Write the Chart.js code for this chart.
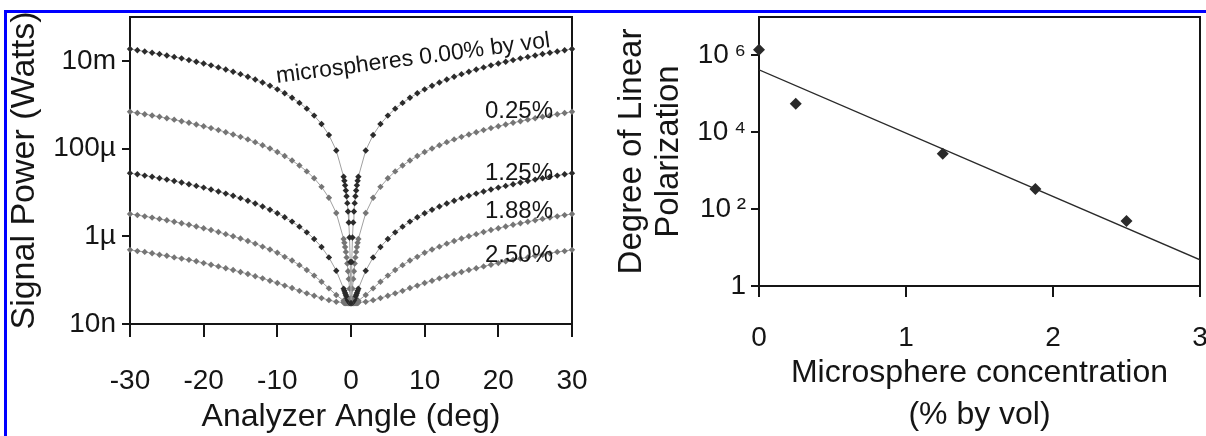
<!DOCTYPE html>
<html>
<head>
<meta charset="utf-8">
<script src="https://cdn.jsdelivr.net/npm/chart.js@4.4.1/dist/chart.umd.min.js"></script>
<style>
  html, body { margin: 0; padding: 0; background: #fff; overflow: hidden; }
  body { width: 1206px; height: 436px; position: relative; }
  #frame { position: absolute; left: 4px; top: 10px; width: 1220px; height: 450px;
           border-top: 3px solid #0000ff; border-left: 3px solid #0000ff; }
  #left { position: absolute; left: 0; top: 0; width: 600px; height: 436px; }
  #right { position: absolute; left: 600px; top: 0; width: 606px; height: 436px; }
</style>
</head>
<body>
<div id="frame"></div>
<canvas id="left" width="600" height="436"></canvas>
<canvas id="right" width="606" height="436"></canvas>
<script>
// analyzer angle (deg), dense sampling near 0
const angles = [-30,-29,-28,-27,-26,-25,-24,-23,-22,-21,-20,-19,-18,-17,-16,-15,-14,-13,-12,-11,
  -10,-9,-8,-7,-6,-5,-4,-3,-2,-1,-0.9,-0.8,-0.7,-0.6,-0.5,-0.4,-0.3,-0.2,-0.1,0,
  0.1,0.2,0.3,0.4,0.5,0.6,0.7,0.8,0.9,1,2,3,4,5,6,7,8,9,10,
  11,12,13,14,15,16,17,18,19,20,21,22,23,24,25,26,27,28,29,30]

// signal power (W) for each microsphere concentration
const power000 = [0.0186,0.0175,0.0164,0.0153,0.0143,0.0133,0.0123,0.0114,0.0104,0.00956,
  0.0087,0.00789,0.0071,0.00636,0.00565,0.00498,0.00435,0.00376,0.00322,0.00271,
  0.00224,0.00182,0.00144,0.0011,8.13e-4,5.65e-4,3.62e-4,2.04e-4,9.06e-5,2.27e-5,
  1.84e-5,1.45e-5,1.11e-5,8.2e-6,5.7e-6,3.66e-6,2.07e-6,9.4e-7,2.6e-7,3.0e-8,
  2.6e-7,9.4e-7,2.07e-6,3.66e-6,5.7e-6,8.2e-6,1.11e-5,1.45e-5,1.84e-5,
  2.27e-5,9.06e-5,2.04e-4,3.62e-4,5.65e-4,8.13e-4,0.0011,0.00144,0.00182,0.00224,
  0.00271,0.00322,0.00376,0.00435,0.00498,0.00565,0.00636,0.0071,0.00789,0.0087,
  0.00956,0.0104,0.0114,0.0123,0.0133,0.0143,0.0153,0.0164,0.0175,0.0186]
const power025 = [6.9e-4,6.49e-4,6.08e-4,5.69e-4,5.3e-4,4.93e-4,4.57e-4,4.21e-4,3.87e-4,3.54e-4,
  3.23e-4,2.93e-4,2.64e-4,2.36e-4,2.1e-4,1.85e-4,1.62e-4,1.4e-4,1.19e-4,1.0e-4,
  8.32e-5,6.75e-5,5.35e-5,4.1e-5,3.02e-5,2.1e-5,1.34e-5,7.56e-6,3.39e-6,8.7e-7,
  7.1e-7,5.7e-7,4.4e-7,3.3e-7,2.4e-7,1.6e-7,1.06e-7,6.4e-8,3.8e-8,3.0e-8,
  3.8e-8,6.4e-8,1.06e-7,1.6e-7,2.4e-7,3.3e-7,4.4e-7,5.7e-7,7.1e-7,
  8.7e-7,3.39e-6,7.56e-6,1.34e-5,2.1e-5,3.02e-5,4.1e-5,5.35e-5,6.75e-5,8.32e-5,
  1.0e-4,1.19e-4,1.4e-4,1.62e-4,1.85e-4,2.1e-4,2.36e-4,2.64e-4,2.93e-4,3.23e-4,
  3.54e-4,3.87e-4,4.21e-4,4.57e-4,4.93e-4,5.3e-4,5.69e-4,6.08e-4,6.49e-4,6.9e-4]
const power125 = [2.75e-5,2.59e-5,2.42e-5,2.27e-5,2.11e-5,1.96e-5,1.82e-5,1.68e-5,1.54e-5,1.41e-5,
  1.29e-5,1.17e-5,1.05e-5,9.4e-6,8.39e-6,7.4e-6,6.47e-6,5.6e-6,4.79e-6,4.04e-6,
  3.35e-6,2.72e-6,2.16e-6,1.66e-6,1.23e-6,8.7e-7,5.7e-7,3.3e-7,1.64e-7,6.4e-8,
  5.7e-8,5.1e-8,4.6e-8,4.2e-8,3.8e-8,3.5e-8,3.3e-8,3.1e-8,3.0e-8,3.0e-8,
  3.0e-8,3.1e-8,3.3e-8,3.5e-8,3.8e-8,4.2e-8,4.6e-8,5.1e-8,5.7e-8,
  6.4e-8,1.64e-7,3.3e-7,5.7e-7,8.7e-7,1.23e-6,1.66e-6,2.16e-6,2.72e-6,3.35e-6,
  4.04e-6,4.79e-6,5.6e-6,6.47e-6,7.4e-6,8.39e-6,9.4e-6,1.05e-5,1.17e-5,1.29e-5,
  1.41e-5,1.54e-5,1.68e-5,1.82e-5,1.96e-5,2.11e-5,2.27e-5,2.42e-5,2.59e-5,2.75e-5]
const power188 = [3.23e-6,3.04e-6,2.85e-6,2.67e-6,2.49e-6,2.32e-6,2.15e-6,1.98e-6,1.83e-6,1.67e-6,
  1.53e-6,1.39e-6,1.25e-6,1.12e-6,1.0e-6,8.9e-7,7.8e-7,6.8e-7,5.8e-7,5.0e-7,
  4.2e-7,3.4e-7,2.8e-7,2.2e-7,1.7e-7,1.27e-7,9.2e-8,6.5e-8,4.6e-8,3.4e-8,
  3.3e-8,3.3e-8,3.2e-8,3.1e-8,3.1e-8,3.1e-8,3.0e-8,3.0e-8,3.0e-8,3.0e-8,
  3.0e-8,3.0e-8,3.0e-8,3.1e-8,3.1e-8,3.1e-8,3.2e-8,3.3e-8,3.3e-8,
  3.4e-8,4.6e-8,6.5e-8,9.2e-8,1.27e-7,1.7e-7,2.2e-7,2.8e-7,3.4e-7,4.2e-7,
  5.0e-7,5.8e-7,6.8e-7,7.8e-7,8.9e-7,1.0e-6,1.12e-6,1.25e-6,1.39e-6,1.53e-6,
  1.67e-6,1.83e-6,1.98e-6,2.15e-6,2.32e-6,2.49e-6,2.67e-6,2.85e-6,3.04e-6,3.23e-6]
const power250 = [4.9e-7,4.6e-7,4.4e-7,4.1e-7,3.8e-7,3.6e-7,3.3e-7,3.1e-7,2.9e-7,2.7e-7,
  2.45e-7,2.25e-7,2.06e-7,1.87e-7,1.7e-7,1.53e-7,1.38e-7,1.23e-7,1.1e-7,9.7e-8,
  8.6e-8,7.5e-8,6.6e-8,5.7e-8,5.0e-8,4.4e-8,3.9e-8,3.5e-8,3.2e-8,3.1e-8,
  3.0e-8,3.0e-8,3.0e-8,3.0e-8,3.0e-8,3.0e-8,3.0e-8,3.0e-8,3.0e-8,3.0e-8,
  3.0e-8,3.0e-8,3.0e-8,3.0e-8,3.0e-8,3.0e-8,3.0e-8,3.0e-8,3.0e-8,
  3.1e-8,3.2e-8,3.5e-8,3.9e-8,4.4e-8,5.0e-8,5.7e-8,6.6e-8,7.5e-8,8.6e-8,
  9.7e-8,1.1e-7,1.23e-7,1.38e-7,1.53e-7,1.7e-7,1.87e-7,2.06e-7,2.25e-7,2.45e-7,
  2.7e-7,2.9e-7,3.1e-7,3.3e-7,3.6e-7,3.8e-7,4.1e-7,4.4e-7,4.6e-7,4.9e-7]

const curveNotes = ['microspheres 0.00% by vol', '0.25%', '1.25%', '1.88%', '2.50%']
const angleTicks = [-30, -20, -10, 0, 10, 20, 30]
const powerTicks = [1e-8, 1e-6, 1e-4, 1e-2]
const powerTickLabels = ['10n', '1µ', '100µ', '10m']

// right panel
const concentration = [0, 0.25, 1.25, 1.88, 2.5]
const polarization = [1.4e6, 5.5e4, 2750, 336, 49]
const fitConcentration = [0, 3]
const fitPolarization = [4.2e5, 4.8]
const concTicks = [0, 1, 2, 3]
const polTicks = [1, 1e2, 1e4, 1e6]
const polTickLabels = ['1', '10\u2009²', '10\u2009⁴', '10\u2009⁶']

Chart.defaults.font.family = "'Liberation Sans', Arial, sans-serif"
Chart.defaults.color = '#151515'

const ink = '#151515'

const pairs = (xs, ys) => xs.map((x, i) => ({ x: x, y: ys[i] }))

// box round the plot area (top and right sides; the axes give the other two)
const frame = {
    id: 'frame',
    beforeDatasetsDraw(chart) {
        const { ctx, chartArea: a } = chart
        ctx.save()
        ctx.strokeStyle = ink
        ctx.lineWidth = 2
        ctx.beginPath()
        ctx.moveTo(a.left, a.top)
        ctx.lineTo(a.right, a.top)
        ctx.lineTo(a.right, a.bottom)
        ctx.stroke()
        ctx.restore()
    }
}

const notes = {
    id: 'notes',
    afterDatasetsDraw(chart) {
        const { ctx } = chart
        ctx.save()
        ctx.fillStyle = ink
        ctx.font = "23px 'Liberation Sans', Arial, sans-serif"
        ctx.textBaseline = 'alphabetic'
        ctx.save()
        ctx.translate(277, 83)
        ctx.rotate(-7.5 * Math.PI / 180)
        ctx.textAlign = 'left'
        ctx.fillText(curveNotes[0], 0, 0)
        ctx.restore()
        ctx.font = "24px 'Liberation Sans', Arial, sans-serif"
        ctx.textAlign = 'right'
        ctx.fillText(curveNotes[1], 553, 118)
        ctx.fillText(curveNotes[2], 553, 180)
        ctx.fillText(curveNotes[3], 553, 218)
        ctx.fillText(curveNotes[4], 553, 262)
        ctx.restore()
    }
}

const axisLook = (tickLen) => ({
    grid: { drawOnChartArea: false, drawTicks: true, tickLength: tickLen, lineWidth: 2, color: ink },
    border: { display: true, width: 2, color: ink }
})

const curve = (label, values, colour) => ({
    label: label,
    data: pairs(angles, values),
    showLine: true,
    borderColor: '#a0a0a0',
    borderWidth: 1,
    backgroundColor: colour,
    pointBackgroundColor: colour,
    pointBorderWidth: 0,
    pointStyle: 'rectRot',
    pointRadius: 3.2,
    clip: false
})

new Chart(document.getElementById('left'), {
    type: 'scatter',
    data: {
        datasets: [
            curve('0.00%', power000, '#2b2b2b'),
            curve('0.25%', power025, '#757575'),
            curve('1.25%', power125, '#2b2b2b'),
            curve('1.88%', power188, '#757575'),
            curve('2.50%', power250, '#757575')
        ]
    },
    options: {
        responsive: false,
        animation: false,
        layout: { padding: { left: 0, top: 17, right: 28, bottom: 0 } },
        plugins: { legend: { display: false }, tooltip: { enabled: false } },
        scales: {
            x: {
                type: 'linear', min: -30, max: 30,
                afterBuildTicks: s => { s.ticks = angleTicks.map(v => ({ value: v })) },
                ticks: { font: { size: 28 }, padding: 27, maxRotation: 0, autoSkip: false },
                ...axisLook(13),
                title: { display: true, text: 'Analyzer Angle (deg)', font: { size: 32 }, padding: { top: 0, bottom: 0 } },
                afterFit: s => { s.height = 112; s.paddingLeft = 0; s.paddingRight = 0 }
            },
            y: {
                type: 'logarithmic', min: 1e-8, max: 1e-1,
                afterBuildTicks: s => { s.ticks = powerTicks.map(v => ({ value: v })) },
                ticks: { font: { size: 28 }, padding: 6, callback: v => powerTickLabels[powerTicks.indexOf(v)] },
                ...axisLook(8),
                title: { display: true, text: 'Signal Power (Watts)', font: { size: 34 }, padding: { top: 4, bottom: 0 } },
                afterFit: s => { s.width = 130; s.paddingTop = 0; s.paddingBottom = 0 }
            }
        }
    },
    plugins: [frame, notes]
})

new Chart(document.getElementById('right'), {
    type: 'scatter',
    data: {
        datasets: [
            {
                label: 'measured',
                data: pairs(concentration, polarization),
                pointStyle: 'rectRot',
                pointRadius: 6,
                pointBorderWidth: 0,
                backgroundColor: '#2a2a2a',
                clip: false
            },
            {
                label: 'fit',
                data: pairs(fitConcentration, fitPolarization),
                showLine: true,
                borderColor: '#2a2a2a',
                borderWidth: 1.3,
                pointRadius: 0
            }
        ]
    },
    options: {
        responsive: false,
        animation: false,
        layout: { padding: { left: 0, top: 17, right: 2, bottom: 0 } },
        plugins: { legend: { display: false }, tooltip: { enabled: false } },
        scales: {
            x: {
                type: 'linear', min: 0, max: 3,
                afterBuildTicks: s => { s.ticks = concTicks.map(v => ({ value: v })) },
                ticks: { font: { size: 28 }, padding: 24, maxRotation: 0, autoSkip: false },
                ...axisLook(11),
                title: { display: true, text: ['Microsphere concentration', '(% by vol)'], font: { size: 32, lineHeight: 1.3 }, padding: { top: 0, bottom: 0 } },
                afterFit: s => { s.height = 150; s.paddingLeft = 0; s.paddingRight = 0 }
            },
            y: {
                type: 'logarithmic', min: 1, max: 1e7,
                afterBuildTicks: s => { s.ticks = polTicks.map(v => ({ value: v })) },
                ticks: { font: { size: 28 }, padding: 5, callback: v => polTickLabels[polTicks.indexOf(v)] },
                ...axisLook(8),
                title: { display: true, text: ['Degree of Linear', 'Polarization'], font: { size: 33, lineHeight: 1.1 }, padding: { top: 14, bottom: 0 } },
                afterFit: s => { s.width = 159; s.paddingTop = 0; s.paddingBottom = 0 }
            }
        }
    },
    plugins: [frame]
})
</script>
</body>
</html>
